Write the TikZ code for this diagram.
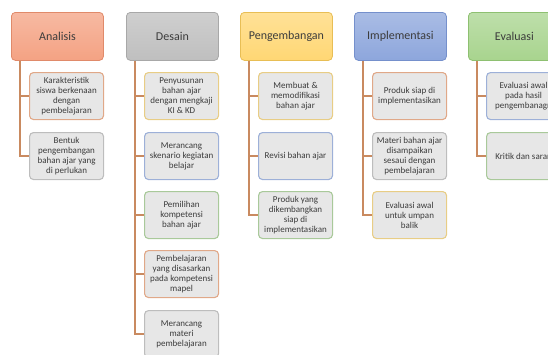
\documentclass[tikz,border=0pt]{standalone}
\usepackage{fontspec}
\setmainfont{Carlito}
\definecolor{txt}{HTML}{3C3C3C}
\definecolor{itemfill}{HTML}{E7E7E7}
\definecolor{connc}{HTML}{C98A60}
\definecolor{cOr}{HTML}{F4A283}
\definecolor{cOrD}{HTML}{E08A6A}
\definecolor{cGr}{HTML}{BFBFBF}
\definecolor{cGrD}{HTML}{A8A8A8}
\definecolor{cYe}{HTML}{FFD774}
\definecolor{cYeD}{HTML}{E8BE55}
\definecolor{cBl}{HTML}{8DA6DC}
\definecolor{cBlD}{HTML}{7590CC}
\definecolor{cGn}{HTML}{A8D48E}
\definecolor{cGnD}{HTML}{8EC071}
\definecolor{bOr}{HTML}{E0A888}
\definecolor{bGr}{HTML}{BDBDBD}
\definecolor{bYe}{HTML}{E8CD85}
\definecolor{bBl}{HTML}{9DB0D8}
\definecolor{bGn}{HTML}{A9C99A}
\tikzset{
  hdr/.style={anchor=north west, rounded corners=4pt, minimum width=92pt, minimum height=48pt,
    font=\fontsize{12}{14}\selectfont, text=txt, line width=0.8pt, draw=#1D, top color=#1!75!white, bottom color=#1},
  item/.style={anchor=north west, rounded corners=4pt, minimum width=74pt, minimum height=47pt,
    align=center, font=\fontsize{9}{10}\selectfont, fill=itemfill,
    line width=1.1pt, text=txt, inner sep=1pt, draw=#1},
  conn/.style={draw=connc, line width=1.3pt}
}
\begin{document}
\begin{tikzpicture}[x=1pt,y=1pt]
\useasboundingbox (0,0) rectangle (548,-354);
\clip (0,0) rectangle (548,-354);
% headers
\node[hdr=cOr] (hA) at (11,-12) {Analisis};
\node[hdr=cGr] (hD) at (126,-12) {Desain};
\node[hdr=cYe] (hP) at (240,-12) {Pengembangan};
\node[hdr=cBl] (hI) at (354,-12) {Implementasi};
\node[hdr=cGn] (hE) at (468,-12) {Evaluasi};
% Analisis
\node[item=bOr] (a1) at (29,-72) {Karakteristik\\siswa berkenaan\\dengan\\pembelajaran};
\node[item=bGr] (a2) at (29,-132) {Bentuk\\pengembangan\\bahan ajar yang\\di perlukan};
% Desain
\node[item=bYe] (d1) at (144,-72) {Penyusunan\\bahan ajar\\dengan mengkaji\\KI \& KD};
\node[item=bBl] (d2) at (144,-132) {Merancang\\skenario kegiatan\\belajar};
\node[item=bGn] (d3) at (144,-191) {Pemilihan\\kompetensi\\bahan ajar};
\node[item=bOr] (d4) at (144,-250) {Pembelajaran\\yang disasarkan\\pada kompetensi\\mapel};
\node[item=bGr] (d5) at (144,-310) {Merancang\\materi\\pembelajaran};
% Pengembangan
\node[item=bYe] (p1) at (258,-72) {Membuat \&\\memodifikasi\\bahan ajar};
\node[item=bBl] (p2) at (258,-132) {Revisi bahan ajar};
\node[item=bGn] (p3) at (258,-191) {Produk yang\\dikembangkan\\siap di\\implementasikan};
% Implementasi
\node[item=bOr] (i1) at (372,-72) {Produk siap di\\implementasikan};
\node[item=bGr] (i2) at (372,-132) {Materi bahan ajar\\disampaikan\\sesaui dengan\\pembelajaran};
\node[item=bYe] (i3) at (372,-191) {Evaluasi awal\\untuk umpan\\balik};
% Evaluasi
\node[item=bBl] (e1) at (486,-72) {Evaluasi awal\\pada hasil\\pengembanagn};
\node[item=bGn] (e2) at (486,-132) {Kritik dan saran};
% connectors
\foreach \h/\c in {hA/a1,hA/a2,hD/d1,hD/d2,hD/d3,hD/d4,hD/d5,hP/p1,hP/p2,hP/p3,hI/i1,hI/i2,hI/i3,hE/e1,hE/e2}{
  \draw[conn] (\h.south west) ++(9,0) |- (\c.west);
}
\end{tikzpicture}
\end{document}
